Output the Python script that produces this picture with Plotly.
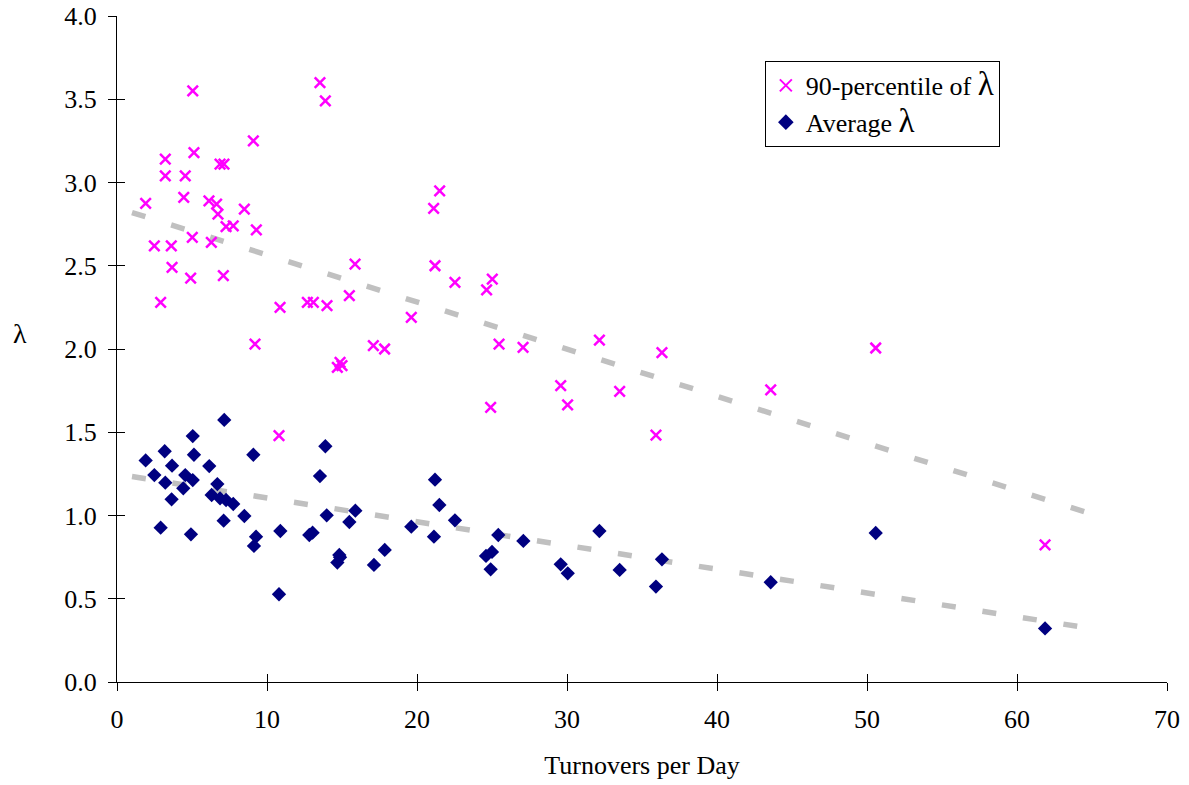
import numpy as np
import plotly.graph_objects as go

# 90-percentile of lambda
p90_x = [1.91, 2.49, 2.91, 3.22, 3.22, 3.62, 3.67, 4.45, 4.55, 4.91, 5.02, 5.05, 5.13,
         6.13, 6.29, 6.64, 6.73, 6.87, 7.09, 7.13, 7.27, 7.75, 8.49, 9.09, 9.2, 9.29,
         10.87, 10.8, 12.69, 13.09, 13.53, 13.89, 14.0, 14.69, 14.87, 15.0, 15.49, 15.87,
         17.09, 17.84, 19.62, 21.11, 21.2, 21.51, 22.53, 24.64, 25.02, 24.91, 25.47, 27.07,
         29.58, 30.04, 32.16, 33.51, 35.93, 36.33, 43.58, 50.58, 61.87]
p90_y = [2.875, 2.62, 2.28, 3.14, 3.04, 2.62, 2.49, 2.91, 3.04, 2.425, 2.67, 3.55, 3.18,
         2.89, 2.64, 2.87, 2.81, 3.11, 2.44, 3.11, 2.735, 2.74, 2.84, 3.25, 2.03, 2.715,
         2.25, 1.48, 2.28, 2.28, 3.60, 3.49, 2.26, 1.89, 1.92, 1.90, 2.32, 2.51,
         2.02, 2.00, 2.19, 2.845, 2.50, 2.95, 2.40, 2.355, 2.42, 1.65, 2.03, 2.01,
         1.78, 1.664, 2.054, 1.746, 1.483, 1.978, 1.754, 2.006, 0.823]

# Average lambda
avg_x = [1.91, 2.49, 2.91, 3.18, 3.22, 3.64, 3.67, 4.42, 4.55, 4.93, 5.05, 5.05, 5.13,
         6.15, 6.31, 6.69, 6.87, 7.11, 7.15, 7.27, 7.75, 8.49, 9.09, 9.13, 9.27, 10.89,
         10.8, 12.82, 13.04, 13.53, 13.89, 13.98, 14.69, 14.82, 14.87, 15.49, 15.89, 17.13,
         17.85, 19.62, 21.13, 21.2, 21.49, 22.53, 24.6, 25.0, 24.91, 25.42, 27.09, 29.58,
         30.05, 32.16, 33.51, 35.93, 36.33, 43.58, 50.58, 61.87]
avg_y = [1.331, 1.243, 0.927, 1.386, 1.197, 1.097, 1.299, 1.163, 1.243, 0.887, 1.477, 1.213, 1.365,
         1.297, 1.123, 1.189, 1.103, 0.969, 1.574, 1.093, 1.069, 0.997, 1.365, 0.817, 0.873, 0.907,
         0.527, 0.883, 0.897, 1.237, 1.416, 1.001, 0.717, 0.763, 0.749, 0.961, 1.029, 0.703,
         0.793, 0.933, 0.873, 1.215, 1.063, 0.971, 0.757, 0.781, 0.677, 0.883, 0.847, 0.707,
         0.653, 0.907, 0.673, 0.573, 0.737, 0.599, 0.895, 0.322]

# linear trendlines: [90-percentile, average]
trend_range = [1.0, 65.0]
trend_intercept = [2.848, 1.248]
trend_slope = [-0.0283, -0.01427]

series_names = ['90-percentile of <span style="font-size:33px">λ</span>',
                'Average <span style="font-size:33px">λ</span>']

FONT = "Liberation Serif, Times New Roman, serif"

fig = go.Figure()

tx = np.array(trend_range)
for b, m in zip(trend_intercept, trend_slope):
    fig.add_trace(go.Scatter(x=tx, y=b + m * tx, mode="lines",
                             line=dict(color="#C0C0C0", width=5.5, dash="14px,27px"),
                             showlegend=False, hoverinfo="skip"))

fig.add_trace(go.Scatter(x=p90_x, y=p90_y, mode="markers", name=series_names[0],
                         marker=dict(symbol="x-thin", size=10.5, color="#FF00FF",
                                     line=dict(color="#FF00FF", width=2.5))))
fig.add_trace(go.Scatter(x=avg_x, y=avg_y, mode="markers", name=series_names[1],
                         marker=dict(symbol="diamond", size=11, color="#000080",
                                     line=dict(width=0))))
# dummy trace for overlay axes (inside tick halves)
fig.add_trace(go.Scatter(x=[None], y=[None], xaxis="x2", yaxis="y2", showlegend=False))

axis_common = dict(showgrid=False, zeroline=False, showline=True, linecolor="black",
                   linewidth=1, ticks="outside", ticklen=8, tickcolor="black", tickwidth=1,
                   automargin=False, ticklabeloverflow="allow",
                   tickfont=dict(family=FONT, size=26, color="black"))

fig.update_layout(
    width=1189, height=785,
    margin=dict(l=117, r=22, t=16, b=103),
    paper_bgcolor="white", plot_bgcolor="white",
    font=dict(family=FONT, size=26, color="black"),
    xaxis=dict(range=[0, 70], dtick=10, tick0=0, ticklabelstandoff=6,
               title=dict(text="Turnovers per Day", font=dict(family=FONT, size=26), standoff=22),
               **axis_common),
    yaxis=dict(range=[0, 4.0], dtick=0.5, tick0=0, tickformat=".1f", ticklabelstandoff=6,
               **axis_common),
    xaxis2=dict(range=[0, 70], dtick=10, tick0=0, overlaying="x", showgrid=False, zeroline=False,
                showline=False, ticks="inside", ticklen=8, tickcolor="black",
                showticklabels=False, automargin=False),
    yaxis2=dict(range=[0, 4.0], dtick=0.5, tick0=0, overlaying="y", side="left",
                showgrid=False, zeroline=False, showline=False, ticks="inside", ticklen=8,
                tickcolor="black", showticklabels=False, automargin=False),
    legend=dict(x=0.617, y=0.9325, xanchor="left", yanchor="top", bgcolor="white",
                bordercolor="black", borderwidth=1, font=dict(family=FONT, size=26),
                itemsizing="constant", tracegroupgap=0, itemwidth=30),
    annotations=[dict(text="λ", x=-0.1006, y=0.524, xref="paper", yref="paper",
                      showarrow=False, font=dict(family=FONT, size=28))],
)

fig.write_html("out.html", config={"displayModeBar": False},
               post_script="document.body.style.margin='0';document.body.style.overflow='hidden';")
